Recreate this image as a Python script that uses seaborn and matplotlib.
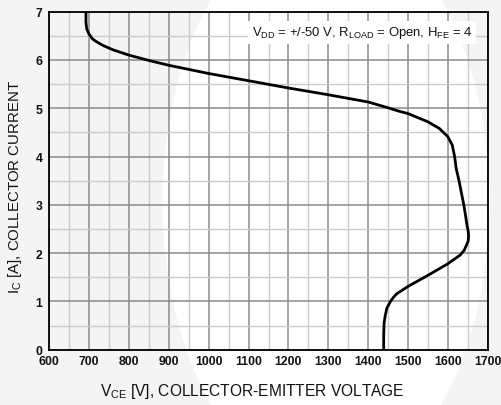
import matplotlib
matplotlib.use("Agg")
import matplotlib.pyplot as plt
from matplotlib.patches import Ellipse
from matplotlib.ticker import MultipleLocator
import seaborn as sns
import pandas as pd

# Curve (bottom -> top)
vce = [1439, 1439, 1440, 1443, 1447, 1456, 1464, 1472, 1500, 1550, 1600, 1631,
       1641, 1647, 1651, 1652, 1651, 1648, 1644, 1640, 1634, 1628, 1621, 1617,
       1611, 1600, 1579, 1550, 1500, 1477, 1450, 1400, 1300, 1200, 1100, 1000,
       900, 850, 800, 760, 735, 718, 708, 700, 694, 692, 692]
ic = [0.0, 0.3, 0.55, 0.71, 0.86, 1.0, 1.09, 1.16, 1.31, 1.54, 1.78, 1.96,
      2.06, 2.17, 2.25, 2.35, 2.46, 2.58, 2.8, 3.0, 3.25, 3.5, 3.75, 4.0,
      4.24, 4.41, 4.58, 4.72, 4.89, 4.94, 5.01, 5.13, 5.28, 5.42, 5.57, 5.72,
      5.89, 5.99, 6.10, 6.21, 6.30, 6.38, 6.44, 6.53, 6.64, 6.78, 7.0]
x_ticks = [600, 700, 800, 900, 1000, 1100, 1200, 1300, 1400, 1500, 1600, 1700]
y_ticks = [0, 1, 2, 3, 4, 5, 6, 7]

sns.set_theme(style="white")
plt.rcParams['font.family'] = ['Liberation Sans', 'DejaVu Sans']
plt.rcParams['mathtext.fontset'] = 'custom'
plt.rcParams['mathtext.rm'] = 'Liberation Sans'
plt.rcParams['mathtext.it'] = 'Liberation Sans:italic'
plt.rcParams['mathtext.bf'] = 'Liberation Sans:bold'
plt.rcParams['mathtext.default'] = 'regular'

fig = plt.figure(figsize=(5.01, 4.06), dpi=100, facecolor='#f4f4f4')
# faint watermark-like background
fig.add_artist(Ellipse((326 / 501, 0.5), 327 / 501, 570 / 406,
                       transform=fig.transFigure, facecolor='white',
                       edgecolor='none', zorder=-1))

ax = fig.add_axes([49.3 / 501, 1 - 350.7 / 406, 438.4 / 501, 338.0 / 406])
ax.set_facecolor('none')

df = pd.DataFrame({'vce': vce, 'ic': ic})
sns.lineplot(data=df, x='vce', y='ic', sort=False, estimator=None,
             color='black', lw=2.0, ax=ax, zorder=5)
for ln in ax.get_lines():
    ln.set_solid_joinstyle('round')
    ln.set_solid_capstyle('butt')

ax.set_xlim(600, 1700)
ax.set_ylim(0, 7)
ax.set_xticks(x_ticks)
ax.set_yticks(y_ticks)
ax.xaxis.set_minor_locator(MultipleLocator(50))
ax.yaxis.set_minor_locator(MultipleLocator(0.5))
ax.grid(which='major', color='#8a8a8a', lw=1.1)
ax.grid(which='minor', color='#cbcbcb', lw=1.0)
ax.set_axisbelow(True)
for s in ax.spines.values():
    s.set_visible(True)
    s.set_color('black')
    s.set_linewidth(1.3)
ax.tick_params(which='both', length=0)
ax.tick_params(axis='x', pad=4)
ax.tick_params(axis='y', pad=5)
for lab in ax.get_xticklabels() + ax.get_yticklabels():
    lab.set_fontweight('bold')
    lab.set_fontsize(8.8)
    lab.set_color('#111111')
ax.set_xlabel('')
ax.set_ylabel('')

ax.text((252.5 - 49.3) / 438.4, (350.7 - 392) / 338.0,
        r'V$_{CE}$ [V], COLLECTOR-EMITTER VOLTAGE',
        transform=ax.transAxes, ha='center', va='center', fontsize=11.2,
        color='#111111')
ax.text((15 - 49.3) / 438.4, 0.485,
        r'I$_{C}$ [A], COLLECTOR CURRENT',
        transform=ax.transAxes, ha='center', va='center', rotation=90,
        fontsize=10.8, color='#111111')

ax.text(1661, 6.57, r'V$_{DD}$ = +/-50 V, R$_{LOAD}$ = Open, H$_{FE}$ = 4',
        ha='right', va='center', fontsize=9.4, color='#111111', zorder=6,
        bbox=dict(facecolor='white', edgecolor='none', pad=2.5))

fig.savefig('out.png', dpi=100, facecolor=fig.get_facecolor())
